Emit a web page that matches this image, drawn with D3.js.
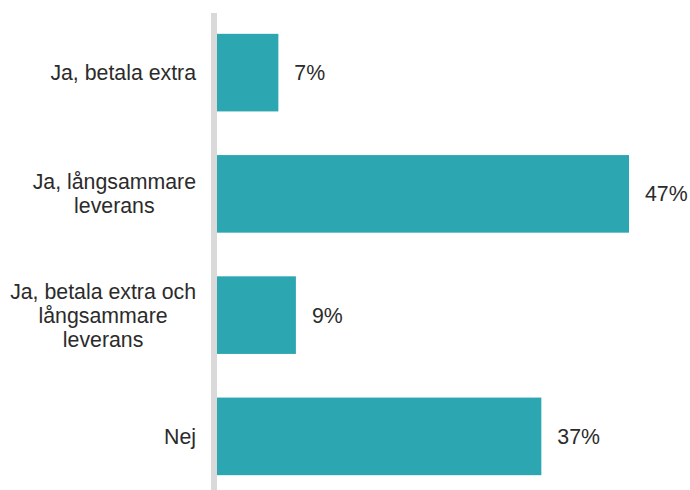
<!DOCTYPE html>
<html>
<head>
<meta charset="utf-8">
<script src="https://cdn.jsdelivr.net/npm/d3@7/dist/d3.min.js"></script>
<style>
  html, body { margin: 0; padding: 0; background: #ffffff; }
  svg { display: block; font-family: "Liberation Sans", Arial, sans-serif; }
</style>
</head>
<body>
<svg id="chart" width="690" height="490"></svg>
<script>
// Survey answers and their shares (%)
const categories = [
  "Ja, betala extra",
  "Ja, långsammare\nleverans",
  "Ja, betala extra och\nlångsammare\nleverans",
  "Nej"
];
const values = [7, 47, 9, 37];
const valueLabels = ["7%", "47%", "9%", "37%"];

const svg = d3.select("#chart");
const fontSize = 21.3;
const lineHeight = 24;
const textColor = "#2b2b2b";
const barColor = "#2ca6b0";
const labelRight = 196;

const x = d3.scaleLinear().domain([0, 47]).range([217, 629]);
const y = d3.scaleBand()
  .domain(categories)
  .range([12, 497])
  .paddingInner(0.36)
  .paddingOuter(0.18);

// Bars
svg.append("g")
  .selectAll("rect")
  .data(categories)
  .join("rect")
  .attr("x", x(0))
  .attr("y", d => y(d))
  .attr("width", (d, i) => x(values[i]) - x(0))
  .attr("height", y.bandwidth())
  .attr("fill", barColor);

// Vertical baseline
svg.append("line")
  .attr("x1", x(0) - 3).attr("x2", x(0) - 3)
  .attr("y1", 13).attr("y2", 490)
  .attr("stroke", "#d9d9d9")
  .attr("stroke-width", 6);

// Category labels: block right-aligned, lines centred within the block
const labels = svg.append("g")
  .selectAll("text")
  .data(categories)
  .join("text")
  .attr("text-anchor", "middle")
  .attr("font-size", fontSize)
  .attr("fill", textColor);

labels.each(function(d) {
  const lines = d.split("\n");
  const cy = y(d) + y.bandwidth() / 2;
  const top = cy - (lines.length - 1) * lineHeight / 2;
  const t = d3.select(this);
  const spans = lines.map((ln, k) =>
    t.append("tspan")
      .attr("y", top + k * lineHeight)
      .attr("dy", "0.35em")
      .text(ln));
  const maxW = d3.max(spans, s => s.node().getComputedTextLength());
  spans.forEach(s => s.attr("x", labelRight - maxW / 2));
});

// Value labels
svg.append("g")
  .selectAll("text")
  .data(categories)
  .join("text")
  .attr("x", (d, i) => x(values[i]) + 16)
  .attr("y", d => y(d) + y.bandwidth() / 2)
  .attr("dy", "0.35em")
  .attr("font-size", fontSize)
  .attr("fill", textColor)
  .text((d, i) => valueLabels[i]);
</script>
</body>
</html>
